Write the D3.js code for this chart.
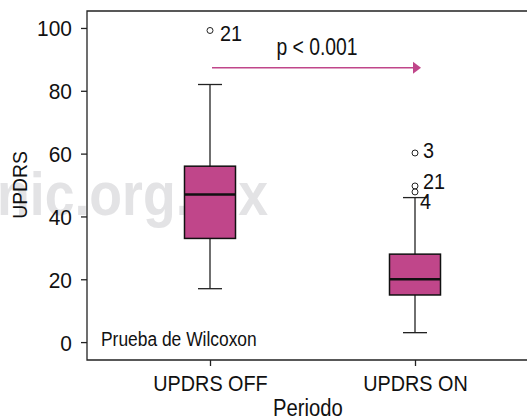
<!DOCTYPE html>
<html>
<head>
<meta charset="utf-8">
<script src="https://cdn.jsdelivr.net/npm/d3@7"></script>
<style>
  body { margin: 0; background: #fff; }
  svg { display: block; }
  text { font-family: "Liberation Sans Narrow", "Liberation Sans", Arial, sans-serif; fill: #111; }
</style>
</head>
<body>
<div id="chart"></div>
<script>
// box plot data
const categories = ["UPDRS OFF", "UPDRS ON"];
const whiskerLow = [17, 3];
const q1 = [33, 15];
const median = [47, 20];
const q3 = [56, 28];
const whiskerHigh = [82, 46];

const outlierCats = ["UPDRS OFF", "UPDRS ON", "UPDRS ON", "UPDRS ON"];
const outlierValues = [99.2, 60.2, 49.7, 47.8];
const outlierLabels = ["21", "3", "21", "4"];

const yTicks = [0, 20, 40, 60, 80, 100];
const arrowValue = 87.3;
const pText = "p < 0.001";

const width = 527, height = 418;
const margin = {top: 11, left: 87, bottom: 58};
const boxColor = "#c0468a";

// the original font is a narrow helvetica, squeeze the glyphs a bit
function squeeze(sel, k) {
    sel.each(function() {
        let w = this.getComputedTextLength();
        d3.select(this)
            .attr("textLength", w * k)
            .attr("lengthAdjust", "spacingAndGlyphs");
    });
    return sel;
}

const svg = d3.select("#chart").append("svg")
    .attr("width", width)
    .attr("height", height);

// watermark behind everything
svg.append("text")
    .attr("x", -3)
    .attr("y", 215)
    .style("font-family", "'Liberation Sans', sans-serif")
    .style("font-weight", "bold")
    .style("font-size", "62px")
    .style("fill", "#e3e3e5")
    .attr("textLength", 271)
    .attr("lengthAdjust", "spacingAndGlyphs")
    .text("nic.org.mx");

const x = d3.scalePoint()
    .domain(categories)
    .range([margin.left, 538])
    .padding(0.6);

const y = d3.scaleLinear()
    .domain([-5.7, 105.4])
    .range([height - margin.bottom, margin.top]);

// frame (right side is off the picture)
svg.append("path")
    .attr("d", `M${width + 5},${margin.top}H${margin.left}V${height - margin.bottom}H${width + 5}`)
    .attr("fill", "none")
    .attr("stroke", "#222")
    .attr("stroke-width", 1.3);

// y axis
let yAxis = svg.append("g")
    .attr("transform", `translate(${margin.left},0)`)
    .call(d3.axisLeft(y).tickValues(yTicks).tickSize(6).tickPadding(9));
yAxis.select(".domain").remove();
yAxis.selectAll("line").attr("stroke", "#222").attr("stroke-width", 1.3);
squeeze(yAxis.selectAll("text").style("font-size", "22px").attr("dy", "0.36em"), 0.95);

// x axis
let xAxis = svg.append("g")
    .attr("transform", `translate(0,${height - margin.bottom})`)
    .call(d3.axisBottom(x).tickSize(6));
xAxis.select(".domain").remove();
xAxis.selectAll("line").attr("stroke", "#222").attr("stroke-width", 1.3);
squeeze(xAxis.selectAll("text").style("font-size", "22px").attr("y", 31).attr("dy", 0), 0.9);

// axis titles
squeeze(svg.append("text")
    .attr("transform", `translate(27,185) rotate(-90)`)
    .attr("text-anchor", "middle")
    .style("font-size", "21px")
    .text("UPDRS"), 0.92);

squeeze(svg.append("text")
    .attr("x", 308)
    .attr("y", 416)
    .attr("text-anchor", "middle")
    .style("font-size", "23px")
    .text("Periodo"), 0.88);

// boxes
const boxW = 51, capW = 24;
const boxes = svg.append("g").selectAll("g")
    .data(categories)
    .enter().append("g");

boxes.append("line")
    .attr("x1", d => x(d)).attr("x2", d => x(d))
    .attr("y1", (d, i) => y(whiskerLow[i]))
    .attr("y2", (d, i) => y(whiskerHigh[i]))
    .attr("stroke", "#222").attr("stroke-width", 1.3);

boxes.append("line")
    .attr("x1", d => x(d) - capW / 2).attr("x2", d => x(d) + capW / 2)
    .attr("y1", (d, i) => y(whiskerLow[i])).attr("y2", (d, i) => y(whiskerLow[i]))
    .attr("stroke", "#222").attr("stroke-width", 1.3);

boxes.append("line")
    .attr("x1", d => x(d) - capW / 2).attr("x2", d => x(d) + capW / 2)
    .attr("y1", (d, i) => y(whiskerHigh[i])).attr("y2", (d, i) => y(whiskerHigh[i]))
    .attr("stroke", "#222").attr("stroke-width", 1.3);

boxes.append("rect")
    .attr("x", d => x(d) - boxW / 2)
    .attr("width", boxW)
    .attr("y", (d, i) => y(q3[i]))
    .attr("height", (d, i) => y(q1[i]) - y(q3[i]))
    .attr("fill", boxColor)
    .attr("stroke", "#111")
    .attr("stroke-width", 1.5);

boxes.append("line")
    .attr("x1", d => x(d) - boxW / 2).attr("x2", d => x(d) + boxW / 2)
    .attr("y1", (d, i) => y(median[i])).attr("y2", (d, i) => y(median[i]))
    .attr("stroke", "#111").attr("stroke-width", 2.5);

// outliers, labels nudged like in the original
const labelShift = [[10, 3], [8, -3], [8, -5], [5, 9.5]];
outlierValues.forEach((v, i) => {
    svg.append("circle")
        .attr("cx", x(outlierCats[i]))
        .attr("cy", y(v))
        .attr("r", 3)
        .attr("fill", "#fff")
        .attr("stroke", "#222")
        .attr("stroke-width", 1);
    squeeze(svg.append("text")
        .attr("x", x(outlierCats[i]) + labelShift[i][0])
        .attr("y", y(v) + labelShift[i][1])
        .attr("dy", "0.36em")
        .style("font-size", "22px")
        .text(outlierLabels[i]), 0.9);
});

// comparison arrow
const xa1 = x(categories[0]) + 2, xa2 = x(categories[1]) + 6;
svg.append("line")
    .attr("x1", xa1).attr("x2", xa2 - 8)
    .attr("y1", y(arrowValue)).attr("y2", y(arrowValue))
    .attr("stroke", boxColor).attr("stroke-width", 1.5);
svg.append("path")
    .attr("d", `M${xa2},${y(arrowValue)}l-8,-6v12z`)
    .attr("fill", boxColor);

squeeze(svg.append("text")
    .attr("x", 317)
    .attr("y", 55)
    .attr("text-anchor", "middle")
    .style("font-size", "23px")
    .text(pText), 0.84);

squeeze(svg.append("text")
    .attr("x", 101)
    .attr("y", y(0) + 4)
    .style("font-size", "20px")
    .text("Prueba de Wilcoxon"), 0.87);
</script>
</body>
</html>
